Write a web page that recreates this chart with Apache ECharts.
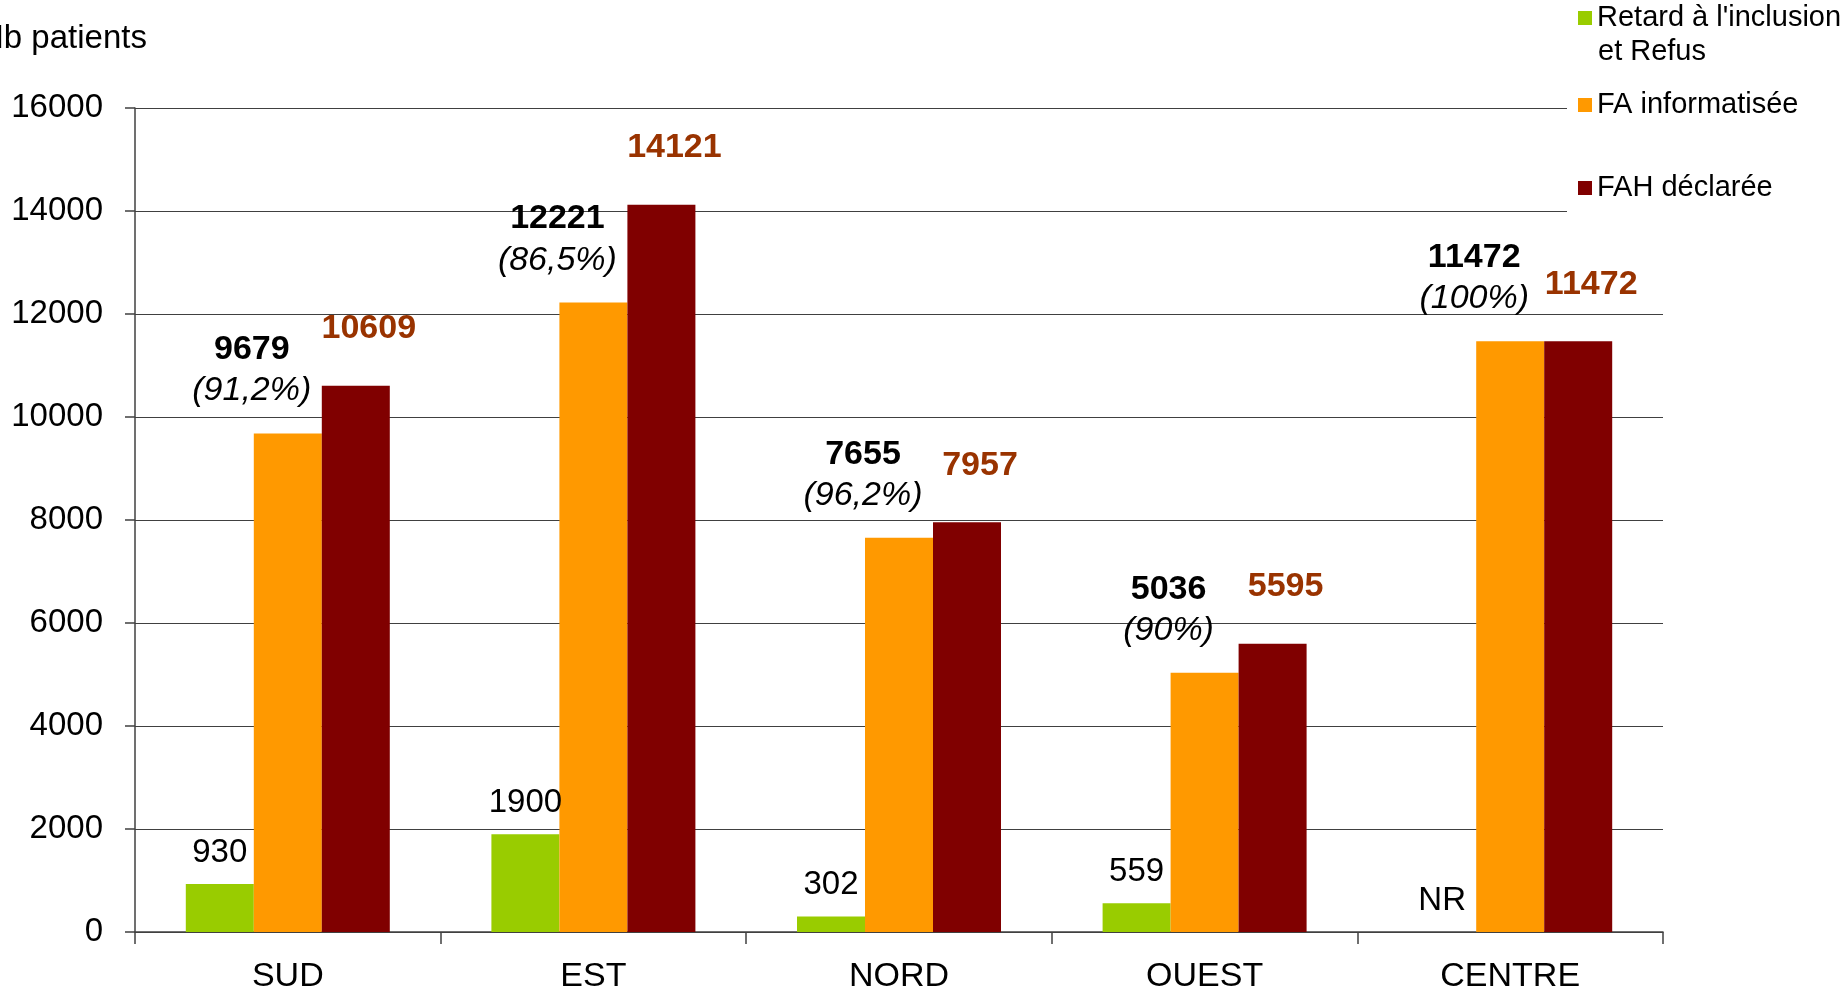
<!DOCTYPE html>
<html>
<head>
<meta charset="utf-8">
<script src="https://cdn.jsdelivr.net/npm/echarts@6/dist/echarts.min.js"></script>
<style>
  html, body { margin: 0; padding: 0; background: #fff; }
  #main { width: 1847px; height: 994px; }
</style>
</head>
<body>
<div id="main"></div>
<script>
const regions = ['SUD', 'EST', 'NORD', 'OUEST', 'CENTRE'];
const retardRefus = [930, 1900, 302, 559, null]; // null = NR
const faInformatisee = [9679, 12221, 7655, 5036, 11472];
const faPercent = ['91,2%', '86,5%', '96,2%', '90%', '100%'];
const fahDeclaree = [10609, 14121, 7957, 5595, 11472];
const yTicks = { min: 0, max: 16000, interval: 2000 };

const font = "'Liberation Sans', Arial, sans-serif";
const lineCol = '#404040';

const chart = echarts.init(document.getElementById('main'));

const option = {
  backgroundColor: '#fff',
  textStyle: { fontFamily: font },
  animation: false,
  grid: { left: 135, right: 184, top: 108, bottom: 60 },
  graphic: [
    {
      type: 'rect', z: 1,
      shape: { x: 1567, y: 0, width: 280, height: 228 },
      style: { fill: '#fff' }
    },
    {
      type: 'text', z: 5,
      style: { text: 'Nb patients', x: -20, y: 39, font: '33px ' + font, fill: '#000', verticalAlign: 'middle' }
    },
    {
      type: 'text', z: 5,
      style: { text: 'et Refus', x: 1598, y: 52, font: '29px ' + font, fill: '#000', verticalAlign: 'middle' }
    }
  ],
  legend: [
    {
      data: ["Retard à l'inclusion et Refus"],
      formatter: () => "Retard à l'inclusion",
      left: 1578, top: 1
    },
    { data: ['FA informatisée'], left: 1578, top: 88 },
    { data: ['FAH déclarée'], left: 1578, top: 171 }
  ].map(l => Object.assign({
    orient: 'vertical', padding: 0, icon: 'rect', itemWidth: 14, itemHeight: 14, z: 4,
    textStyle: { fontSize: 29, color: '#000', fontFamily: font, lineHeight: 34 }
  }, l)),
  xAxis: {
    type: 'category',
    data: regions,
    axisLine: { lineStyle: { color: lineCol, width: 1.5 } },
    axisTick: { show: true, length: 12, lineStyle: { color: lineCol, width: 1.5 } },
    axisLabel: { fontSize: 34, color: '#000', margin: 28, fontFamily: font }
  },
  yAxis: {
    type: 'value',
    min: yTicks.min, max: yTicks.max, interval: yTicks.interval,
    axisLine: { show: true, lineStyle: { color: lineCol, width: 1.5 } },
    axisTick: { show: true, length: 10, lineStyle: { color: lineCol, width: 1.5 } },
    splitLine: { show: true, lineStyle: { color: lineCol, width: 1.2 } },
    axisLabel: { fontSize: 33, color: '#000', margin: 32, fontFamily: font, formatter: v => String(v) }
  },
  series: [
    {
      name: "Retard à l'inclusion et Refus",
      type: 'bar',
      barWidth: 68,
      barGap: '0%',
      itemStyle: { color: '#99CC00' },
      label: { show: true, position: 'top', distance: 15, fontSize: 33, color: '#000', fontFamily: font },
      data: retardRefus.map(v => v === null ? { value: 0, label: { formatter: 'NR' } } : v)
    },
    {
      name: 'FA informatisée',
      type: 'bar',
      barWidth: 68,
      barGap: '0%',
      itemStyle: { color: '#FF9900' },
      label: {
        show: true, position: 'top', distance: 22, offset: [-36, 0],
        formatter: p => '{b|' + p.value + '}\n{i|(' + faPercent[p.dataIndex] + ')}',
        rich: {
          b: { fontSize: 34, fontWeight: 'bold', color: '#000', lineHeight: 41, fontFamily: font },
          i: { fontSize: 34, fontStyle: 'italic', color: '#000', lineHeight: 41, fontFamily: font }
        }
      },
      data: faInformatisee
    },
    {
      name: 'FAH déclarée',
      type: 'bar',
      barWidth: 68,
      barGap: '0%',
      itemStyle: { color: '#800000' },
      label: {
        show: true, position: 'top', distance: 40, offset: [13, 0],
        fontSize: 34, fontWeight: 'bold', color: '#993300', fontFamily: font
      },
      data: fahDeclaree
    }
  ]
};

chart.setOption(option);
</script>
</body>
</html>
